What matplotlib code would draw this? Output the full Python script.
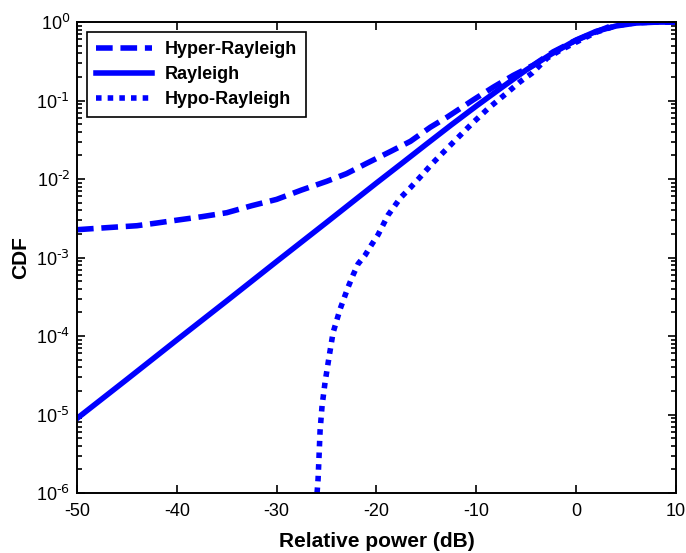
import numpy as np
import matplotlib
matplotlib.use("Agg")
import matplotlib.pyplot as plt
from matplotlib.ticker import LogLocator, FuncFormatter, NullFormatter

plt.rcParams['font.family'] = ['Liberation Sans', 'DejaVu Sans']
plt.rcParams['mathtext.default'] = 'regular'
plt.rcParams['axes.unicode_minus'] = False

# values
hyper_db = [-50, -47, -44, -42, -40, -37.5, -35, -32.5, -30, -27.5, -25, -23, -21,
            -18.6, -16.6, -14.6, -12.9, -10.3, -8.3, -6.3, -4.3, -2.3, -0.3, 1.7,
            3.7, 5.5, 7.5, 10]
hyper_cdf = [2.26e-3, 2.40e-3, 2.54e-3, 2.75e-3, 2.99e-3, 3.31e-3, 3.72e-3, 4.57e-3,
             5.50e-3, 7.24e-3, 9.33e-3, 1.17e-2, 1.58e-2, 2.24e-2, 3.02e-2, 4.57e-2,
             6.17e-2, 0.102, 0.148, 0.209, 0.282, 0.417, 0.562, 0.724, 0.912, 0.985,
             0.998, 1.0]

rayleigh_db = [-50, -45, -40, -35, -30, -25, -20, -17.5, -15, -12.5, -10, -7.5, -5,
               -2.5, 0, 2, 4, 6, 8, 10]
rayleigh_cdf = [8.9e-6, 2.8e-5, 8.9e-5, 2.8e-4, 8.9e-4, 2.8e-3, 8.9e-3, 1.57e-2,
                2.78e-2, 4.9e-2, 8.5e-2, 0.145, 0.245, 0.39, 0.59, 0.76, 0.89, 0.97,
                0.996, 1.0]

hypo_db = [-25.95, -25.85, -25.75, -25.65, -25.45, -25.15, -24.75, -24.35, -23.65,
           -22.85, -22.34, -21.84, -21.14, -20.5, -19.84, -18.84, -17.6, -16.6, -15.8,
           -14.4, -13.3, -11.9, -10.4, -8.8, -6.9, -5.6, -4.4, -2.9, -1.6, 0.1, 2, 4,
           6, 8, 10]
hypo_cdf = [1.0e-6, 1.5e-6, 3.0e-6, 6.2e-6, 1.29e-5, 2.57e-5, 5.4e-5, 1.1e-4, 2.19e-4,
            4.17e-4, 6.0e-4, 8.3e-4, 1.07e-3, 1.45e-3, 1.95e-3, 3.47e-3, 5.75e-3,
            7.76e-3, 1.0e-2, 1.58e-2, 2.19e-2, 3.31e-2, 5.13e-2, 7.94e-2, 0.126, 0.174,
            0.224, 0.347, 0.436, 0.562, 0.74, 0.9, 0.98, 0.998, 1.0]

fig = plt.figure(figsize=(6.86, 5.53), dpi=100)
ax = fig.add_axes([0.1122, 0.1085, 0.8732, 0.8517])

lw = 4
ax.plot(hyper_db, hyper_cdf, color='#0000ff', lw=lw, dashes=(3, 1.4),
        dash_capstyle='butt', label='Hyper-Rayleigh')
ax.plot(rayleigh_db, rayleigh_cdf, color='#0000ff', lw=lw, label='Rayleigh')
ax.plot(hypo_db, hypo_cdf, color='#0000ff', lw=lw, dashes=(1, 1.1),
        dash_capstyle='butt', label='Hypo-Rayleigh')


def pow_label(v, pos):
    n = int(round(np.log10(v)))
    return r'$10^{\text{%d}}$' % n


ax.set_yscale('log')
ax.set_xlim(-50, 10)
ax.set_ylim(1e-6, 1)
ax.set_xticks(np.arange(-50, 11, 10))
ax.yaxis.set_major_locator(LogLocator(base=10, numticks=10))
ax.yaxis.set_major_formatter(FuncFormatter(pow_label))
ax.yaxis.set_minor_locator(LogLocator(base=10, subs=np.arange(2, 10), numticks=10))
ax.yaxis.set_minor_formatter(NullFormatter())

ax.tick_params(which='both', direction='in', top=True, right=True, labelsize=13,
               width=1.2)
ax.tick_params(which='major', length=6)
ax.tick_params(which='minor', length=3.5)
ax.tick_params(axis='x', pad=7)
ax.tick_params(axis='y', pad=5)
for s in ax.spines.values():
    s.set_linewidth(1.4)

ax.set_xlabel('Relative power (dB)', fontsize=15, fontweight='bold', labelpad=9)
ax.set_ylabel('CDF', fontsize=15, fontweight='bold', labelpad=4)

leg = ax.legend(loc='upper left', prop={'weight': 'bold', 'size': 13},
                frameon=True, fancybox=False, edgecolor='black', framealpha=1,
                borderaxespad=0.55, handlelength=3.1, handletextpad=0.7,
                labelspacing=0.45, borderpad=0.5)
leg.get_frame().set_linewidth(1.2)

fig.savefig('out.png', dpi=100)
